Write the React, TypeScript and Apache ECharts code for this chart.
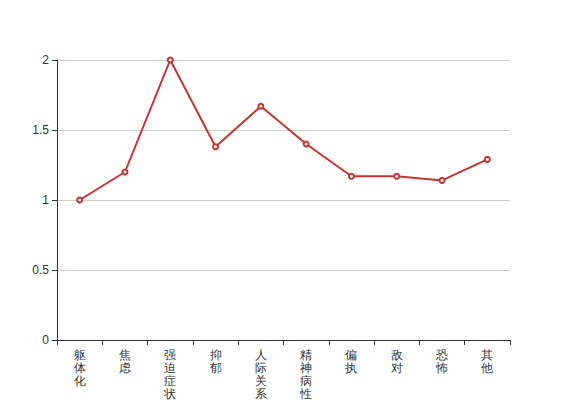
import React, { useEffect, useRef } from "react";
import * as echarts from "echarts";

const categories = ["躯体化", "焦虑", "强迫症状", "抑郁", "人际关系敏感", "精神病性", "偏执", "敌对", "恐怖", "其他"];
const values = [1, 1.2, 2, 1.38, 1.67, 1.4, 1.17, 1.17, 1.14, 1.29];

export default function App() {
  const ref = useRef<HTMLDivElement>(null);
  useEffect(() => {
    document.body.style.margin = "0";
    const chart = echarts.init(ref.current!, null, { renderer: "svg" });
    chart.setOption({
      animation: false,
      grid: { left: 57, right: 57, top: 60, bottom: 60, outerBoundsMode: "none", containLabel: false },
      xAxis: {
        type: "category",
        data: categories,
        boundaryGap: true,
        axisLine: { lineStyle: { color: "#333" } },
        axisTick: { show: true, alignWithLabel: false, lineStyle: { color: "#333" } },
        axisLabel: {
          interval: 0,
          color: "#333",
          fontSize: 12,
          lineHeight: 13,
          hideOverlap: false,
          formatter: (v: string) => v.split("").join("\n"),
        },
      },
      yAxis: {
        type: "value",
        min: 0,
        max: 2,
        interval: 0.5,
        axisLine: { show: true, lineStyle: { color: "#333" } },
        axisTick: { show: true, lineStyle: { color: "#333" } },
        axisLabel: { color: "#333", fontSize: 12 },
        splitLine: { show: true, lineStyle: { color: "#ccc" } },
      },
      series: [
        {
          type: "line",
          data: values,
          symbol: "emptyCircle",
          symbolSize: 5,
          lineStyle: { color: "#c23531", width: 2 },
          itemStyle: { color: "#c23531" },
        },
      ],
    });
    return () => chart.dispose();
  }, []);
  return <div ref={ref} style={{ position: "absolute", left: 0, top: 0, width: 567, height: 400 }} />;
}
